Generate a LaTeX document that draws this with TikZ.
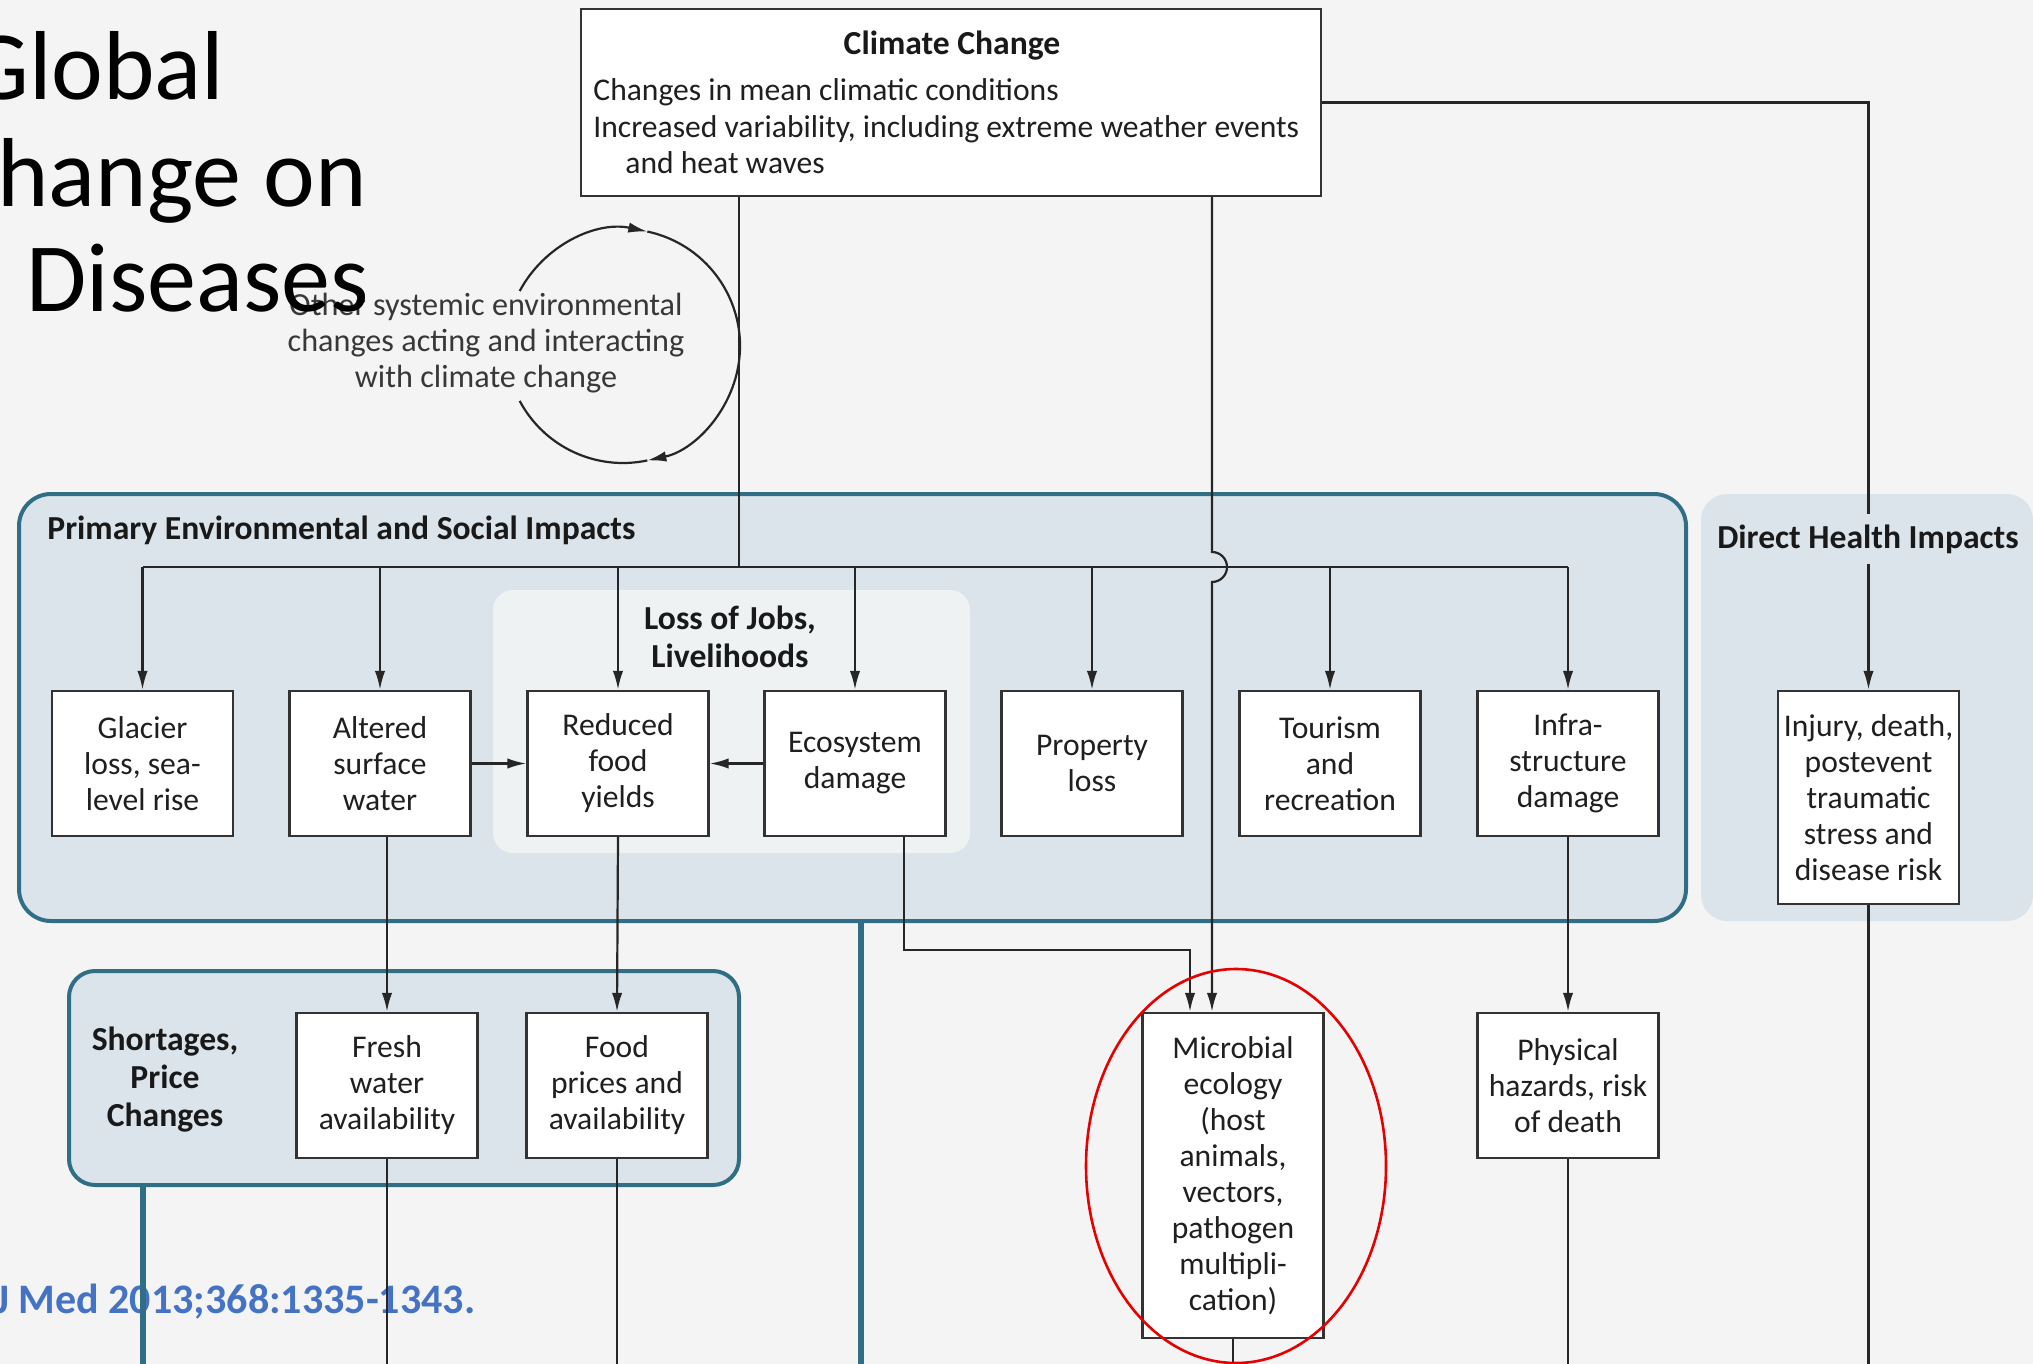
\documentclass[tikz,border=0pt]{standalone}
\usepackage{fontspec}
\setmainfont{Carlito}
\usetikzlibrary{arrows.meta,calc}
\definecolor{bgc}{HTML}{F4F4F4}
\definecolor{panelc}{HTML}{DCE4EB}
\definecolor{tealc}{HTML}{2F6E85}
\definecolor{innerc}{HTML}{EEF2F3}
\definecolor{citec}{HTML}{4472C4}
\definecolor{ringc}{HTML}{E60000}
\newcommand{\boxfont}{\fontsize{15.8}{18}\selectfont}
\newcommand{\labfont}{\fontsize{16.8}{19}\selectfont\bfseries}
\begin{document}
\begin{tikzpicture}[x=0.5pt,y=-0.5pt,
  mybox/.style={draw=black!80,line width=1.2pt,fill=white,minimum width=90.5pt,minimum height=72.5pt,inner sep=1pt,align=center,font=\boxfont,text=black!88},
  ln/.style={draw=black!85,line width=1.1pt},
  arr/.style={ln,-{Latex[length=9.5pt,width=5.2pt]}},
  panel/.style={fill=panelc,draw=tealc,line width=2pt,rounded corners=16pt,inner sep=0pt},
  lab/.style={font=\labfont,align=center,inner sep=2pt,text=black!90},
  tealbar/.style={draw=tealc,line width=2.6pt},
  title/.style={font=\fontsize{49}{55}\selectfont,anchor=base west,inner sep=0pt}]
\fill[bgc] (0,0) rectangle (2033,1364);
\useasboundingbox (0,0) rectangle (2033,1364);
\clip (0,0) rectangle (2033,1364);
% panels
\node[panel,minimum width=833.5pt,minimum height=213.5pt] (primary) at (852.5,707.5) {};
\node[fill=innerc,rounded corners=10pt,inner sep=0pt,minimum width=238.5pt,minimum height=131.5pt] (loss) at (731.5,721.5) {};
\node[fill=panelc,rounded corners=13pt,inner sep=0pt,minimum width=166pt,minimum height=213.5pt] (direct) at (1867,707.5) {};
\node[panel,rounded corners=13pt,minimum width=335pt,minimum height=107pt] (short) at (404,1078) {};
% citation
\node[font=\fontsize{21}{24}\selectfont\bfseries,text=citec,anchor=base west,inner sep=0pt] (cite) at (-5,1313) {J Med 2013;368:1335-1343.};
% climate box
\node[draw=black!80,line width=1.2pt,fill=white,minimum width=370pt,minimum height=93.5pt] (cc) at (951,102.5) {};
\node[lab] (cct) at (952,46) {Climate Change};
\node[font=\boxfont,anchor=mid west,inner sep=0pt,text=black!88] (cc1) at (593,96) {Changes in mean climatic conditions};
\node[font=\boxfont,anchor=mid west,inner sep=0pt,text=black!88] (cc2) at (593,133) {Increased variability, including extreme weather events};
\node[font=\boxfont,anchor=mid west,inner sep=0pt,text=black!88] (cc3) at (625,169) {and heat waves};
% feedback loop
\node[font=\fontsize{16.1}{18.2}\selectfont,align=center,text=black!78] (other) at (486,343) {Other systemic environmental\\changes acting and interacting\\with climate change};
\coordinate (loopc) at (623,346);
\draw[arr] ([shift={(152:58.5pt)}]loopc) arc[start angle=152,end angle=78,radius=58.5pt];
\draw[arr] ([shift={(78:58.5pt)}]loopc) arc[start angle=78,end angle=-78,radius=58.5pt];
\draw[ln] ([shift={(-78:58.5pt)}]loopc) arc[start angle=-78,end angle=-152,radius=58.5pt];
% title
\node[title] (t1) at (-33,100) {Global};
\node[title] (t2) at (-3,206) {hange on};
\node[title] (t3) at (26,311) {Diseases};
% labels
\node[lab,anchor=mid west] (pl) at (43,535) {Primary Environmental and Social Impacts};
\node[lab] (ll) at (730,637) {Loss of Jobs,\\Livelihoods};
\node[lab,inner sep=5pt] (dhi) at (1868,539) {Direct Health Impacts};
\node[lab] (sl) at (165,1080) {Shortages,\\Price\\Changes};
% boxes
\node[mybox] (glacier) at (142.5,763.5) {Glacier\\loss, sea-\\level rise};
\node[mybox] (altered) at (380,763.5) {Altered\\surface\\water};
\node[mybox] (reduced) at (618,763.5) {Reduced\\food\\yields};
\node[mybox] (eco) at (855,763.5) {Ecosystem\\damage};
\node[mybox] (property) at (1092,763.5) {Property\\loss};
\node[mybox] (tourism) at (1330,763.5) {Tourism\\and\\recreation};
\node[mybox] (infra) at (1568,763.5) {Infra-\\structure\\damage};
\node[mybox,minimum height=106.5pt] (injury) at (1868.5,797.5) {Injury, death,\\postevent\\traumatic\\stress and\\disease risk};
\node[mybox] (fresh) at (387,1085.5) {Fresh\\water\\availability};
\node[mybox] (food) at (617,1085.5) {Food\\prices and\\availability};
\node[mybox,minimum height=162.5pt] (micro) at (1233,1175.5) {Microbial\\ecology\\(host\\animals,\\vectors,\\pathogen\\multipli-\\cation)};
\node[mybox] (phys) at (1568,1085.5) {Physical\\hazards, risk\\of death};
% connectors
\coordinate (j1) at (739,567);
\coordinate (j2) at (1212,567);
\coordinate (bot) at (0,1364);
\draw[ln] (cc.south -| j1) -- (j1);
\draw[ln] (glacier.north |- j1) -- (infra.north |- j1);
\foreach \b in {glacier,altered,reduced,eco,property,tourism,infra}
  \draw[arr] (\b.north |- j1) -- (\b.north);
\draw[arr] (cc.south -| j2) -- ([yshift=7.5pt]j2) arc[start angle=90,end angle=-90,radius=7.5pt] -- (micro.north -| j2);
\draw[ln] (cc.east) -| (injury.north |- dhi.north);
\draw[arr] (injury.north |- dhi.south) -- (injury.north);
\draw[arr] (altered.east) -- (reduced.west);
\draw[arr] (eco.west) -- (reduced.east);
\draw[arr] (fresh.north |- altered.south) -- (fresh.north);
\draw[arr] (reduced.south) -- (food.north);
\coordinate (e1) at (904,950);
\coordinate (e2) at (1190,950);
\draw[arr] (eco.south -| e1) -- (e1) -- (e2) -- (micro.north -| e2);
\draw[arr] (infra.south) -- (phys.north);
\foreach \b in {fresh,food,micro,phys,injury}
  \draw[ln] (\b.south) -- (\b.south |- bot);
\coordinate (tb1) at (861,1364);
\coordinate (tb2) at (143,1364);
\draw[tealbar] (primary.south -| tb1) -- (tb1);
\draw[tealbar] (short.south -| tb2) -- (tb2);
% highlight
\coordinate (ringcen) at (1236,1166);
\draw[ringc,line width=1.3pt] (ringcen) ellipse [x radius=75pt,y radius=98.5pt];
\end{tikzpicture}
\end{document}
